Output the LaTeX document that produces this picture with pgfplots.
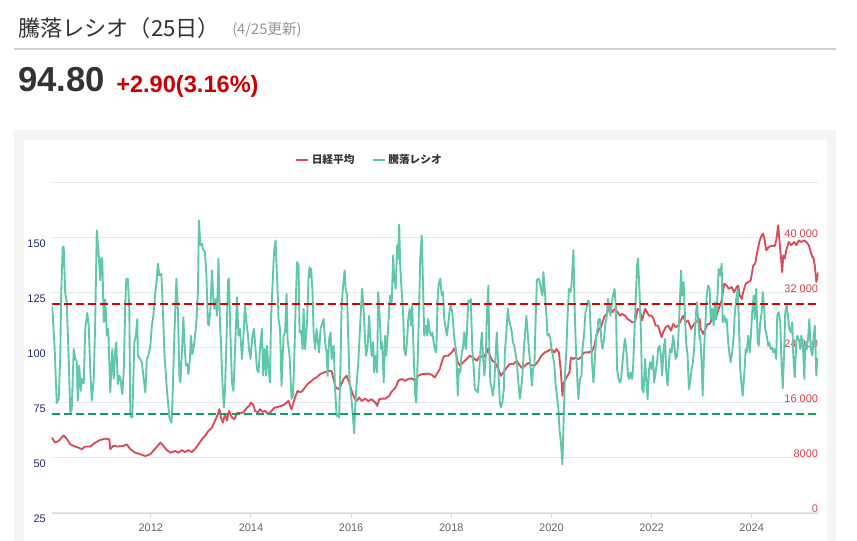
\documentclass[border=0pt]{standalone}
\usepackage{fontspec}
\setmainfont{Liberation Sans}
\newfontfamily\cjk{Noto Sans CJK JP}
\usepackage{pgfplots}
\pgfplotsset{compat=1.18}
\definecolor{nikkei}{HTML}{DB4C5A}
\definecolor{ratio}{HTML}{5FC8AA}
\definecolor{redline}{HTML}{E00000}
\definecolor{greenline}{HTML}{10A068}
\definecolor{gridc}{HTML}{E6E6E6}
\definecolor{axisc}{HTML}{D5DAE5}
\definecolor{leftlab}{HTML}{272C6E}
\definecolor{rightlab}{HTML}{D6404A}
\definecolor{xlab}{HTML}{666666}
\definecolor{panel}{HTML}{F4F4F4}
\definecolor{txt}{HTML}{333333}
\definecolor{subc}{HTML}{969696}
\definecolor{sepc}{HTML}{D0D0D0}
\definecolor{chg}{HTML}{CC0000}
\begin{document}
\begin{tikzpicture}
\begin{scope}[x=0.75pt,y=-0.75pt]
\useasboundingbox (0,0) rectangle (857,541);
\fill[white] (0,0) rectangle (857,541);
\fill[panel] (14,130) rectangle (836,541);
\fill[white] (24,140) rectangle (827,541);
\draw[line width=1.5pt, sepc] (14,49) -- (836,49);
\node[anchor=west, inner sep=0pt, text=txt] at (18,28) {\cjk\fontsize{16.6}{18}\selectfont 騰落レシオ（25日）};
\node[anchor=west, inner sep=0pt, text=subc] at (232,30) {\cjk\fontsize{11}{13}\selectfont (4/25更新)};
\node[anchor=base west, inner sep=0pt, text=txt] at (18,92) {\fontsize{26}{30}\selectfont\bfseries 94.80};
\node[anchor=base west, inner sep=0pt, text=chg] at (116,93) {\fontsize{17.7}{20}\selectfont\bfseries +2.90(3.16\%)};
\end{scope}

% Right axis: Nikkei average
\begin{axis}[
  at={(38.775pt,-384.75pt)}, anchor=south west,
  scale only axis, width=574.95pt, height=247.5pt,
  xmin=2010.02, xmax=2025.33, ymin=0, ymax=48000,
  hide x axis,
  axis y line*=right,
  y axis line style={draw=none},
  scaled y ticks=false,
  ytick={0,8000,16000,24000,32000,40000,48000},
  yticklabels={0,8000,16 000,24 000,32 000,40 000,{}},
  ytick style={draw=none},
  ymajorgrids, grid style={gridc, line width=0.75pt},
  yticklabel style={anchor=east, inner sep=0pt, text=rightlab, font=\fontsize{8.25}{10}\selectfont, yshift=3pt},
]
\addplot[nikkei, line width=1.4pt, line join=round, mark=none] coordinates {
(2010.02,10976) (2010.09,10240) (2010.16,10496) (2010.26,11296) (2010.32,10816) (2010.39,9984) (2010.49,9664) (2010.56,9504) (2010.62,9280) (2010.69,9664) (2010.79,9664) (2010.89,10240) (2010.99,10624) (2011.09,10816) (2011.17,10720) (2011.19,9280) (2011.25,9760) (2011.35,9664) (2011.45,9760) (2011.52,9984) (2011.59,9280) (2011.69,8768) (2011.79,8544) (2011.89,8288) (2011.99,8544) (2012.09,9376) (2012.19,10240) (2012.25,9760) (2012.32,9152) (2012.39,8768)
(2012.49,9024) (2012.55,8768) (2012.62,9152) (2012.68,8864) (2012.75,9152) (2012.82,8864) (2012.88,9280) (2012.95,9984) (2013.02,10720) (2013.08,11200) (2013.15,11936) (2013.22,12416) (2013.28,13408) (2013.34,14368) (2013.37,15104) (2013.40,13888) (2013.44,13152) (2013.48,14368) (2013.52,13408) (2013.56,14848) (2013.62,13888) (2013.67,13632) (2013.72,14528) (2013.78,14528) (2013.85,14624) (2013.92,15328) (2013.96,15584) (2014.00,16064) (2014.05,15680) (2014.08,14848) (2014.14,14624) (2014.18,15104) (2014.23,14720) (2014.28,14848) (2014.35,14368) (2014.41,14848) (2014.47,15328) (2014.55,15456) (2014.61,15584) (2014.68,15840) (2014.75,16320) (2014.78,15584) (2014.81,15104) (2014.85,16064) (2014.88,16800) (2014.93,17760) (2014.98,17536) (2015.03,17760) (2015.08,18272) (2015.13,18752) (2015.17,18976)
(2015.25,19488) (2015.31,19712) (2015.38,20192) (2015.45,20448) (2015.51,20544) (2015.58,20704) (2015.61,20608) (2015.65,19488) (2015.69,18272) (2015.75,18016) (2015.79,18496) (2015.85,19488) (2015.91,19968) (2015.96,18976) (2016.01,17760) (2016.06,16800) (2016.11,16288) (2016.16,16800) (2016.21,16288) (2016.28,16640) (2016.34,16288) (2016.41,16544) (2016.48,16064) (2016.52,15584) (2016.56,16544) (2016.62,16640) (2016.69,16640) (2016.76,17056) (2016.82,17760) (2016.89,18272) (2016.94,19232) (2017.01,19488) (2017.08,19232) (2017.14,19488) (2017.21,19584) (2017.28,19232) (2017.34,19968) (2017.41,20192) (2017.48,20192) (2017.54,20288) (2017.61,20096) (2017.67,19712) (2017.73,20448) (2017.77,20928)
(2017.79,21440) (2017.84,22624) (2017.875,22880) (2017.94,22880) (2018.01,23360) (2018.06,23936) (2018.09,23360) (2018.13,21920) (2018.17,21440) (2018.24,21920) (2018.31,22400) (2018.37,22880) (2018.44,22624) (2018.51,22144) (2018.57,22880) (2018.64,22624) (2018.71,23360) (2018.74,23936) (2018.77,22880) (2018.82,22144) (2018.87,21920) (2018.94,20928) (2018.99,19968) (2019.04,20448) (2019.11,21184) (2019.17,21664) (2019.24,21664) (2019.31,22144) (2019.37,21440) (2019.42,21056) (2019.47,21440) (2019.54,21824) (2019.60,21504) (2019.67,21440) (2019.74,22144) (2019.80,22880) (2019.87,23360) (2019.94,23616) (2020.00,23840) (2020.06,23360) (2020.10,23840) (2020.15,23360) (2020.19,20448) (2020.22,17056) (2020.24,18752) (2020.28,19488) (2020.34,20192) (2020.36,20448)
(2020.39,22624) (2020.44,22400) (2020.48,22624) (2020.54,22400) (2020.59,22624) (2020.64,23264) (2020.68,23360) (2020.75,23360) (2020.82,23616) (2020.86,24320) (2020.90,25792) (2020.95,26784) (2020.99,27008) (2021.03,28000) (2021.07,28704) (2021.11,28960) (2021.15,30176) (2021.19,29696) (2021.22,29216) (2021.27,29696) (2021.32,29216) (2021.37,28704) (2021.41,28960) (2021.47,28704) (2021.52,28224) (2021.57,28000) (2021.61,27744) (2021.67,27744) (2021.72,29696) (2021.77,29440) (2021.81,28000) (2021.87,29696) (2021.91,29216) (2021.95,28704) (2022.00,28704) (2022.04,28224) (2022.08,27264) (2022.13,27264) (2022.17,26272) (2022.20,25568) (2022.23,26272) (2022.28,27008) (2022.33,27264) (2022.39,26528) (2022.43,27488) (2022.48,27008) (2022.53,27264) (2022.60,28224) (2022.63,28704) (2022.68,27744) (2022.73,28000) (2022.79,26784) (2022.83,27264) (2022.88,27744) (2022.93,28000) (2022.96,28224)
(2022.98,26784) (2023.03,26048) (2023.06,26528) (2023.12,27488) (2023.16,27488) (2023.21,28224) (2023.25,28000) (2023.30,28704) (2023.34,29696) (2023.40,30912) (2023.45,33344) (2023.50,33088) (2023.54,32608) (2023.60,32864) (2023.65,32128) (2023.70,32864) (2023.73,33088) (2023.76,31648) (2023.80,31136) (2023.83,32128) (2023.88,33344) (2023.93,33600) (2023.98,33824) (2024.03,36000) (2024.07,36256) (2024.11,37952) (2024.16,39648) (2024.20,40384) (2024.23,40640) (2024.26,39648) (2024.29,38208) (2024.34,38688) (2024.39,38848) (2024.46,38848) (2024.49,39648) (2024.53,41856) (2024.55,39904) (2024.58,37472) (2024.61,35040) (2024.63,37472) (2024.66,36992) (2024.69,38208) (2024.74,39424) (2024.79,38944) (2024.85,39424) (2024.89,38944) (2024.94,39648) (2024.99,39424) (2025.05,39648) (2025.09,39424) (2025.14,38944) (2025.18,37952) (2025.21,37216) (2025.23,37216) (2025.26,36000) (2025.29,33600) (2025.31,34304) (2025.33,35040)
};
\end{axis}

% Left axis: advance-decline ratio
\begin{axis}[
  at={(38.775pt,-384.75pt)}, anchor=south west,
  scale only axis, width=574.95pt, height=247.5pt,
  xmin=2010.02, xmax=2025.33, ymin=25, ymax=175,
  axis x line*=bottom, axis y line*=left,
  x axis line style={draw=axisc, line width=0.75pt, -},
  y axis line style={draw=none},
  xtick={2012,2014,2016,2018,2020,2022,2024},
  xticklabels={2012,2014,2016,2018,2020,2022,2024},
  xtick style={draw=axisc, line width=0.75pt},
  tick align=outside, major tick length=3.75pt,
  xticklabel style={anchor=north, inner sep=0pt, text=xlab, font=\fontsize{8.25}{10}\selectfont, yshift=-4.5pt},
  ytick={25,50,75,100,125,150},
  yticklabels={25,50,75,100,125,150},
  ytick style={draw=none},
  yticklabel style={anchor=east, inner sep=0pt, text=leftlab, font=\fontsize{8.25}{10}\selectfont, yshift=-4.5pt, xshift=-0.5pt},
  legend columns=2,
  legend style={at={(0.3174,1.0697)}, anchor=west, draw=none, fill=none, inner sep=0pt,
    font=\cjk\bfseries\fontsize{8}{10}\selectfont, text=txt,
    /tikz/every even column/.append style={column sep=11pt}},
  legend image code/.code={\draw[#1] (0pt,0pt) -- (9pt,0pt);},
]
\addlegendimage{nikkei, line width=1.4pt}
\addlegendentry{日経平均}
\addplot[ratio, line width=1.4pt, line join=round, mark=none] coordinates {
(2010.02,119) (2010.04,115.5) (2010.08,99.5) (2010.12,75) (2010.16,76.7) (2010.19,95) (2010.21,125) (2010.24,146) (2010.26,146) (2010.29,125) (2010.32,121) (2010.36,95) (2010.39,70.7) (2010.42,72) (2010.46,99.5) (2010.49,95) (2010.52,94) (2010.54,76) (2010.57,92) (2010.60,80.5) (2010.62,86) (2010.66,84) (2010.69,108.7) (2010.73,116) (2010.76,110) (2010.79,90) (2010.82,76) (2010.86,86) (2010.89,113) (2010.92,153.5) (2010.96,142) (2010.99,130.7) (2011.01,141) (2011.03,140.6) (2011.06,111.7) (2011.09,122) (2011.12,105.6) (2011.15,108.7) (2011.19,79.8) (2011.23,99.5) (2011.26,86) (2011.29,99.5) (2011.31,102.6) (2011.34,83.6) (2011.37,87.4) (2011.39,86.6) (2011.43,79) (2011.46,90.4) (2011.49,120.8) (2011.51,131.5) (2011.54,131.5) (2011.57,117.8) (2011.59,69) (2011.63,68.4) (2011.67,102.6) (2011.70,105.6) (2011.73,113.2) (2011.74,96.5) (2011.79,95) (2011.82,93.5) (2011.85,87.4) (2011.89,79.8) (2011.92,95) (2011.95,96.5) (2011.99,101) (2012.02,110) (2012.05,114.7) (2012.09,125.4) (2012.12,131.5) (2012.14,138.3) (2012.17,133) (2012.21,133.7) (2012.23,123.9) (2012.27,98) (2012.32,81.3) (2012.37,68.4) (2012.41,66) (2012.43,75.2) (2012.47,105.6) (2012.51,131.5) (2012.54,117.8) (2012.57,87.4)
(2012.59,84.3) (2012.62,98) (2012.65,114) (2012.67,102.6) (2012.70,92) (2012.73,92.7) (2012.75,88.1) (2012.78,95) (2012.80,105.6) (2012.83,97.3) (2012.87,102.6) (2012.91,111.7) (2012.94,125.4) (2012.96,158) (2012.99,146.7) (2013.02,147.4) (2013.04,145) (2013.08,143.6) (2013.11,133) (2013.14,111) (2013.16,110.3) (2013.19,117.8) (2013.22,135.3) (2013.25,121.6) (2013.27,117.8) (2013.30,122.3) (2013.32,114.7) (2013.35,140.6) (2013.38,111.7) (2013.40,102.6) (2013.43,84.3) (2013.46,72.9) (2013.48,80.5) (2013.51,102.6) (2013.54,130.7) (2013.56,131.5) (2013.59,105.6) (2013.62,84.3) (2013.65,80.5) (2013.68,98) (2013.72,123.1) (2013.75,105.6) (2013.78,108.7) (2013.82,95) (2013.85,105.6) (2013.88,119.3) (2013.91,111.7) (2013.94,105.6) (2013.96,99.5) (2013.99,95) (2014.03,105.6) (2014.06,108.7) (2014.08,102.6) (2014.12,90.4) (2014.15,88.9) (2014.19,102.6) (2014.22,108.7) (2014.24,87.4) (2014.27,99.5) (2014.30,87.4) (2014.32,101) (2014.35,90.4) (2014.38,84.3) (2014.40,113.2) (2014.43,128.4) (2014.46,143.6) (2014.49,148.9) (2014.52,133) (2014.55,113.2) (2014.58,108.7) (2014.61,82.8) (2014.65,105.6) (2014.68,107.1) (2014.71,124.6) (2014.73,104.1) (2014.77,96.5) (2014.81,76.9) (2014.84,78.4) (2014.87,99.5) (2014.89,117.8) (2014.92,139.1) (2014.95,137.5) (2014.97,107.1) (2015.00,107.9) (2015.03,99.5) (2015.05,117.8) (2015.08,99.5) (2015.12,111.7) (2015.15,133) (2015.17,136.8)
(2015.18,132.2) (2015.20,136) (2015.23,125.4) (2015.25,107.1) (2015.28,99.5) (2015.31,108.7) (2015.33,104.1) (2015.36,98) (2015.39,108.7) (2015.41,110.2) (2015.45,113.2) (2015.48,102.6) (2015.51,98) (2015.53,87.4) (2015.56,104.1) (2015.59,107.1) (2015.61,95) (2015.65,101) (2015.68,81.3) (2015.71,69.1) (2015.73,69.9) (2015.76,68.4) (2015.79,95) (2015.81,119.3) (2015.84,128.4) (2015.87,135.3) (2015.89,126.9) (2015.92,123.9) (2015.94,105.6) (2015.97,84.3) (2016.00,78.3) (2016.03,70.7) (2016.06,61.2) (2016.08,72.2) (2016.11,84.3) (2016.14,92) (2016.17,105.6) (2016.20,119.3) (2016.22,126.9) (2016.25,117.8) (2016.28,102.6) (2016.30,96.5) (2016.33,101) (2016.36,114.7) (2016.38,105.6) (2016.41,96.5) (2016.44,102.6) (2016.46,88.9) (2016.49,96.5) (2016.52,88.9) (2016.54,125.4) (2016.57,114.7) (2016.60,99.5) (2016.62,102.6) (2016.65,84.3) (2016.68,105.6) (2016.70,96.5) (2016.73,105.6) (2016.76,117.8) (2016.78,123.9) (2016.81,120.9) (2016.84,142.1) (2016.86,131.5) (2016.89,126.9) (2016.92,146.7) (2016.94,140.6) (2016.96,156.1) (2016.98,137.5) (2017.01,125.4) (2017.04,114.7) (2017.06,99.5) (2017.09,96.5) (2017.12,104.1) (2017.14,113.2) (2017.17,117.8) (2017.20,110.2) (2017.22,119.3) (2017.25,96.5) (2017.28,78.3) (2017.30,75.2) (2017.33,95) (2017.36,121) (2017.38,140.6) (2017.41,151.2) (2017.44,125.4) (2017.46,105.6) (2017.49,110.2) (2017.52,105.6) (2017.54,113.2) (2017.57,107.1) (2017.60,105.6) (2017.62,107.1) (2017.65,102.6) (2017.67,99.5) (2017.70,98) (2017.73,123.9) (2017.75,129.2)
(2017.78,131.5) (2017.81,123.9) (2017.835,125.4) (2017.86,113.2) (2017.89,108.7) (2017.91,105.6) (2017.94,110.9) (2017.97,117.8) (2017.99,119.3) (2018.02,116.3) (2018.05,107.1) (2018.07,102.6) (2018.10,98) (2018.13,78.3) (2018.15,90.4) (2018.18,88.9) (2018.21,98) (2018.23,99.5) (2018.26,107.1) (2018.29,99.5) (2018.31,105.6) (2018.34,121.6) (2018.37,120.8) (2018.39,122.3) (2018.42,99.5) (2018.45,90.4) (2018.47,81.3) (2018.50,80.5) (2018.53,79.8) (2018.55,85.9) (2018.58,98) (2018.61,107.1) (2018.63,98) (2018.66,87.4) (2018.69,96.5) (2018.71,114.7) (2018.74,128.4) (2018.76,99.5) (2018.78,84.3) (2018.81,81.3) (2018.83,78.3) (2018.86,84.3) (2018.89,99.5) (2018.91,107.1) (2018.94,90.4) (2018.97,75.2) (2018.99,72.9) (2019.02,75.2) (2019.05,81.3) (2019.07,98) (2019.10,107.1) (2019.13,117.8) (2019.15,113.2) (2019.18,110.2) (2019.21,107.1) (2019.23,102.6) (2019.26,101) (2019.29,96.5) (2019.31,93.5) (2019.34,84.3) (2019.37,76.9) (2019.39,80.5) (2019.42,87.4) (2019.45,99.5) (2019.47,105.6) (2019.50,114.7) (2019.53,105.6) (2019.55,99.5) (2019.58,92) (2019.61,82.8) (2019.63,90.4) (2019.66,92) (2019.685,113.2) (2019.71,130.7) (2019.74,131.5) (2019.76,130.7) (2019.79,126.9) (2019.82,123.9) (2019.84,134.5) (2019.87,125.4) (2019.90,114.7) (2019.92,105.6) (2019.95,106.4) (2019.98,104.1) (2020.00,99.5) (2020.03,96.5) (2020.06,92) (2020.08,84.3) (2020.11,78.3) (2020.14,72.2) (2020.16,63.1) (2020.19,57) (2020.22,47.1) (2020.24,64.6) (2020.27,87.4) (2020.30,99.5) (2020.32,113.2) (2020.35,126.9)
(2020.38,125.4) (2020.40,128.4) (2020.44,144.4) (2020.46,120.8) (2020.49,99.5) (2020.52,84.3) (2020.54,76.7) (2020.57,85.9) (2020.60,87.4) (2020.62,99.5) (2020.65,105.6) (2020.68,116.3) (2020.70,117.8) (2020.73,121.6) (2020.76,120.8) (2020.78,110.2) (2020.81,93.5) (2020.84,84.3) (2020.86,92) (2020.89,104.1) (2020.92,108.7) (2020.94,113.2) (2020.97,113.2) (2021.00,102.6) (2021.02,99.5) (2021.05,104.1) (2021.08,111.7) (2021.10,113.2) (2021.13,122.3) (2021.16,117.8) (2021.18,114.7) (2021.21,120.8) (2021.23,123.9) (2021.26,126.9) (2021.29,117.8) (2021.31,90.4) (2021.34,85.9) (2021.37,84.3) (2021.39,85.9) (2021.42,93.5) (2021.45,101) (2021.47,104.1) (2021.50,98) (2021.53,87.4) (2021.55,85.9) (2021.58,88.9) (2021.61,85.9) (2021.63,90.4) (2021.66,108.7) (2021.69,125.4) (2021.71,137.5) (2021.73,140.6) (2021.76,125.4) (2021.79,105.6) (2021.81,81.3) (2021.84,79.8) (2021.87,95) (2021.89,87.4) (2021.92,76.7) (2021.95,90.4) (2021.97,93.5) (2022.00,90.4) (2022.03,96.5) (2022.05,84.3) (2022.08,88.9) (2022.11,93.5) (2022.13,99.5) (2022.16,101) (2022.19,96.5) (2022.21,87.4) (2022.24,99.5) (2022.27,104.1) (2022.29,90.4) (2022.32,82.8) (2022.35,93.5) (2022.37,99.5) (2022.40,98) (2022.43,105.6) (2022.45,102.6) (2022.48,95) (2022.51,96.5) (2022.53,102.6) (2022.56,117.8) (2022.59,135.3) (2022.61,123.9) (2022.64,130) (2022.67,113.2) (2022.69,102.6) (2022.72,96.5) (2022.745,81.3) (2022.77,84.3) (2022.80,90.4) (2022.825,93.5) (2022.85,99.5) (2022.88,113.2) (2022.905,120.8) (2022.93,113.2) (2022.96,104.1)
(2022.97,105.6) (2023.00,93.5) (2023.02,78.3) (2023.05,99.5) (2023.08,113.2) (2023.10,123.9) (2023.13,128.4) (2023.16,126.9) (2023.18,113.2) (2023.21,117.8) (2023.24,110.2) (2023.26,120.8) (2023.29,113.2) (2023.32,125.4) (2023.34,136) (2023.37,133) (2023.40,138.3) (2023.42,111.7) (2023.45,114.7) (2023.48,111.7) (2023.50,113.2) (2023.53,102.6) (2023.56,96.5) (2023.58,93.5) (2023.61,98) (2023.64,105.6) (2023.66,114.7) (2023.69,122.3) (2023.72,126.9) (2023.74,114.7) (2023.77,90.4) (2023.80,82.8) (2023.82,78.3) (2023.85,87.4) (2023.88,99.5) (2023.90,98) (2023.93,105.6) (2023.96,98) (2023.98,104.1) (2024.01,116.3) (2024.04,123.9) (2024.06,113.2) (2024.09,126.9) (2024.12,102.6) (2024.14,101) (2024.17,111.7) (2024.20,116.3) (2024.22,125.4) (2024.25,117.8) (2024.27,108.7) (2024.30,105.6) (2024.33,101) (2024.35,102.6) (2024.38,99.5) (2024.41,100.2) (2024.43,98) (2024.46,99.5) (2024.49,95) (2024.51,114.7) (2024.54,116.3) (2024.57,111.7) (2024.59,96.5) (2024.62,81.6) (2024.65,99.5) (2024.67,116.3) (2024.70,119.3) (2024.73,113.2) (2024.75,108.7) (2024.78,107.1) (2024.81,111.7) (2024.83,96.5) (2024.86,86.6) (2024.89,102.6) (2024.91,105.6) (2024.94,104.1) (2024.97,99.5) (2024.99,105.6) (2025.02,102.6) (2025.05,85.9) (2025.07,102.6) (2025.10,99.5) (2025.13,105.6) (2025.15,113.2) (2025.18,99.5) (2025.21,96.5) (2025.23,102.6) (2025.26,110.2) (2025.29,87.4) (2025.31,95) (2025.33,94.8)
};
\addlegendentry{騰落レシオ}
\addplot[redline, line width=1.1pt, dash pattern=on 6pt off 3pt, forget plot] coordinates {(2010.02,120) (2025.33,120)};
\addplot[greenline, line width=1.1pt, dash pattern=on 6pt off 3pt, forget plot] coordinates {(2010.02,70) (2025.33,70)};
\end{axis}
\end{tikzpicture}
\end{document}
